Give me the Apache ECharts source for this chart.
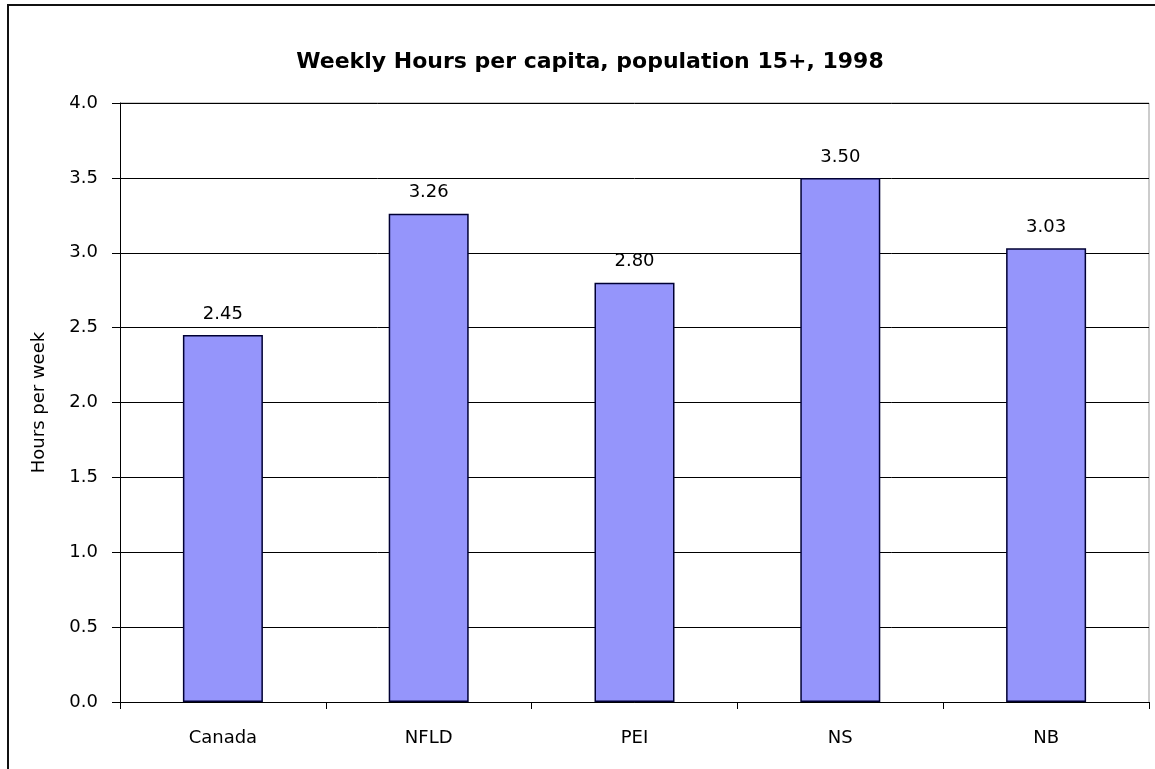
<!DOCTYPE html>
<html>
<head>
<meta charset="utf-8">
<script src="https://cdn.jsdelivr.net/npm/echarts@6/dist/echarts.min.js"></script>
<style>
  html, body { margin: 0; padding: 0; background: #fff; }
  #chart { width: 1155px; height: 769px; }
</style>
</head>
<body>
<div id="chart"></div>
<script>
var categories = ['Canada', 'NFLD', 'PEI', 'NS', 'NB'];
var hours = [2.45, 3.26, 2.80, 3.50, 3.03];
var yTicks = [0, 0.5, 1, 1.5, 2, 2.5, 3, 3.5, 4];

var chart = echarts.init(document.getElementById('chart'));

var option = {
  animation: false,
  backgroundColor: '#fff',
  title: {
    text: 'Weekly Hours per capita, population 15+, 1998',
    left: 585,
    top: 46,
    textAlign: 'center',
    textStyle: {
      fontFamily: 'DejaVu Sans',
      fontWeight: 'bold',
      fontSize: 22,
      color: '#000'
    }
  },
  graphic: [{
    type: 'rect',
    shape: { x: 8, y: 5, width: 1170, height: 790 },
    style: { fill: 'none', stroke: '#111', lineWidth: 2 },
    silent: true
  }, {
    // grey frame on right and top of the plot area
    type: 'polyline',
    shape: { points: [[120, 103], [1149, 103], [1149, 702]] },
    style: { fill: 'none', stroke: '#999', lineWidth: 1 },
    silent: true
  }],
  grid: {
    left: 120,
    top: 103,
    right: 6,
    bottom: 67
  },
  xAxis: {
    type: 'category',
    data: categories,
    axisLine: { lineStyle: { color: '#000', width: 1 } },
    axisTick: { show: true, alignWithLabel: false, length: 7, lineStyle: { color: '#000' } },
    axisLabel: {
      margin: 27,
      fontFamily: 'DejaVu Sans',
      fontSize: 18,
      color: '#000'
    },
    splitLine: { show: false }
  },
  yAxis: {
    type: 'value',
    min: yTicks[0],
    max: yTicks[yTicks.length - 1],
    interval: 0.5,
    name: 'Hours per week',
    nameLocation: 'middle',
    nameGap: 72,
    nameTextStyle: {
      fontFamily: 'DejaVu Sans',
      fontSize: 18,
      color: '#000'
    },
    axisLine: { show: true, lineStyle: { color: '#000', width: 1 } },
    axisTick: { show: true, length: 8, lineStyle: { color: '#000' } },
    axisLabel: {
      margin: 22,
      fontFamily: 'DejaVu Sans',
      fontSize: 18,
      color: '#000',
      formatter: function (v) { return v.toFixed(1); }
    },
    splitLine: { show: true, lineStyle: { color: '#000', width: 1 } }
  },
  series: [{
    type: 'bar',
    data: hours,
    barWidth: 80,
    itemStyle: {
      color: '#9595fb',
      borderColor: '#000033',
      borderWidth: 1.5
    },
    label: {
      show: true,
      position: 'top',
      distance: 12,
      fontFamily: 'DejaVu Sans',
      fontSize: 18,
      color: '#000',
      formatter: function (p) { return p.value.toFixed(2); }
    }
  }]
};

chart.setOption(option);
</script>
</body>
</html>
